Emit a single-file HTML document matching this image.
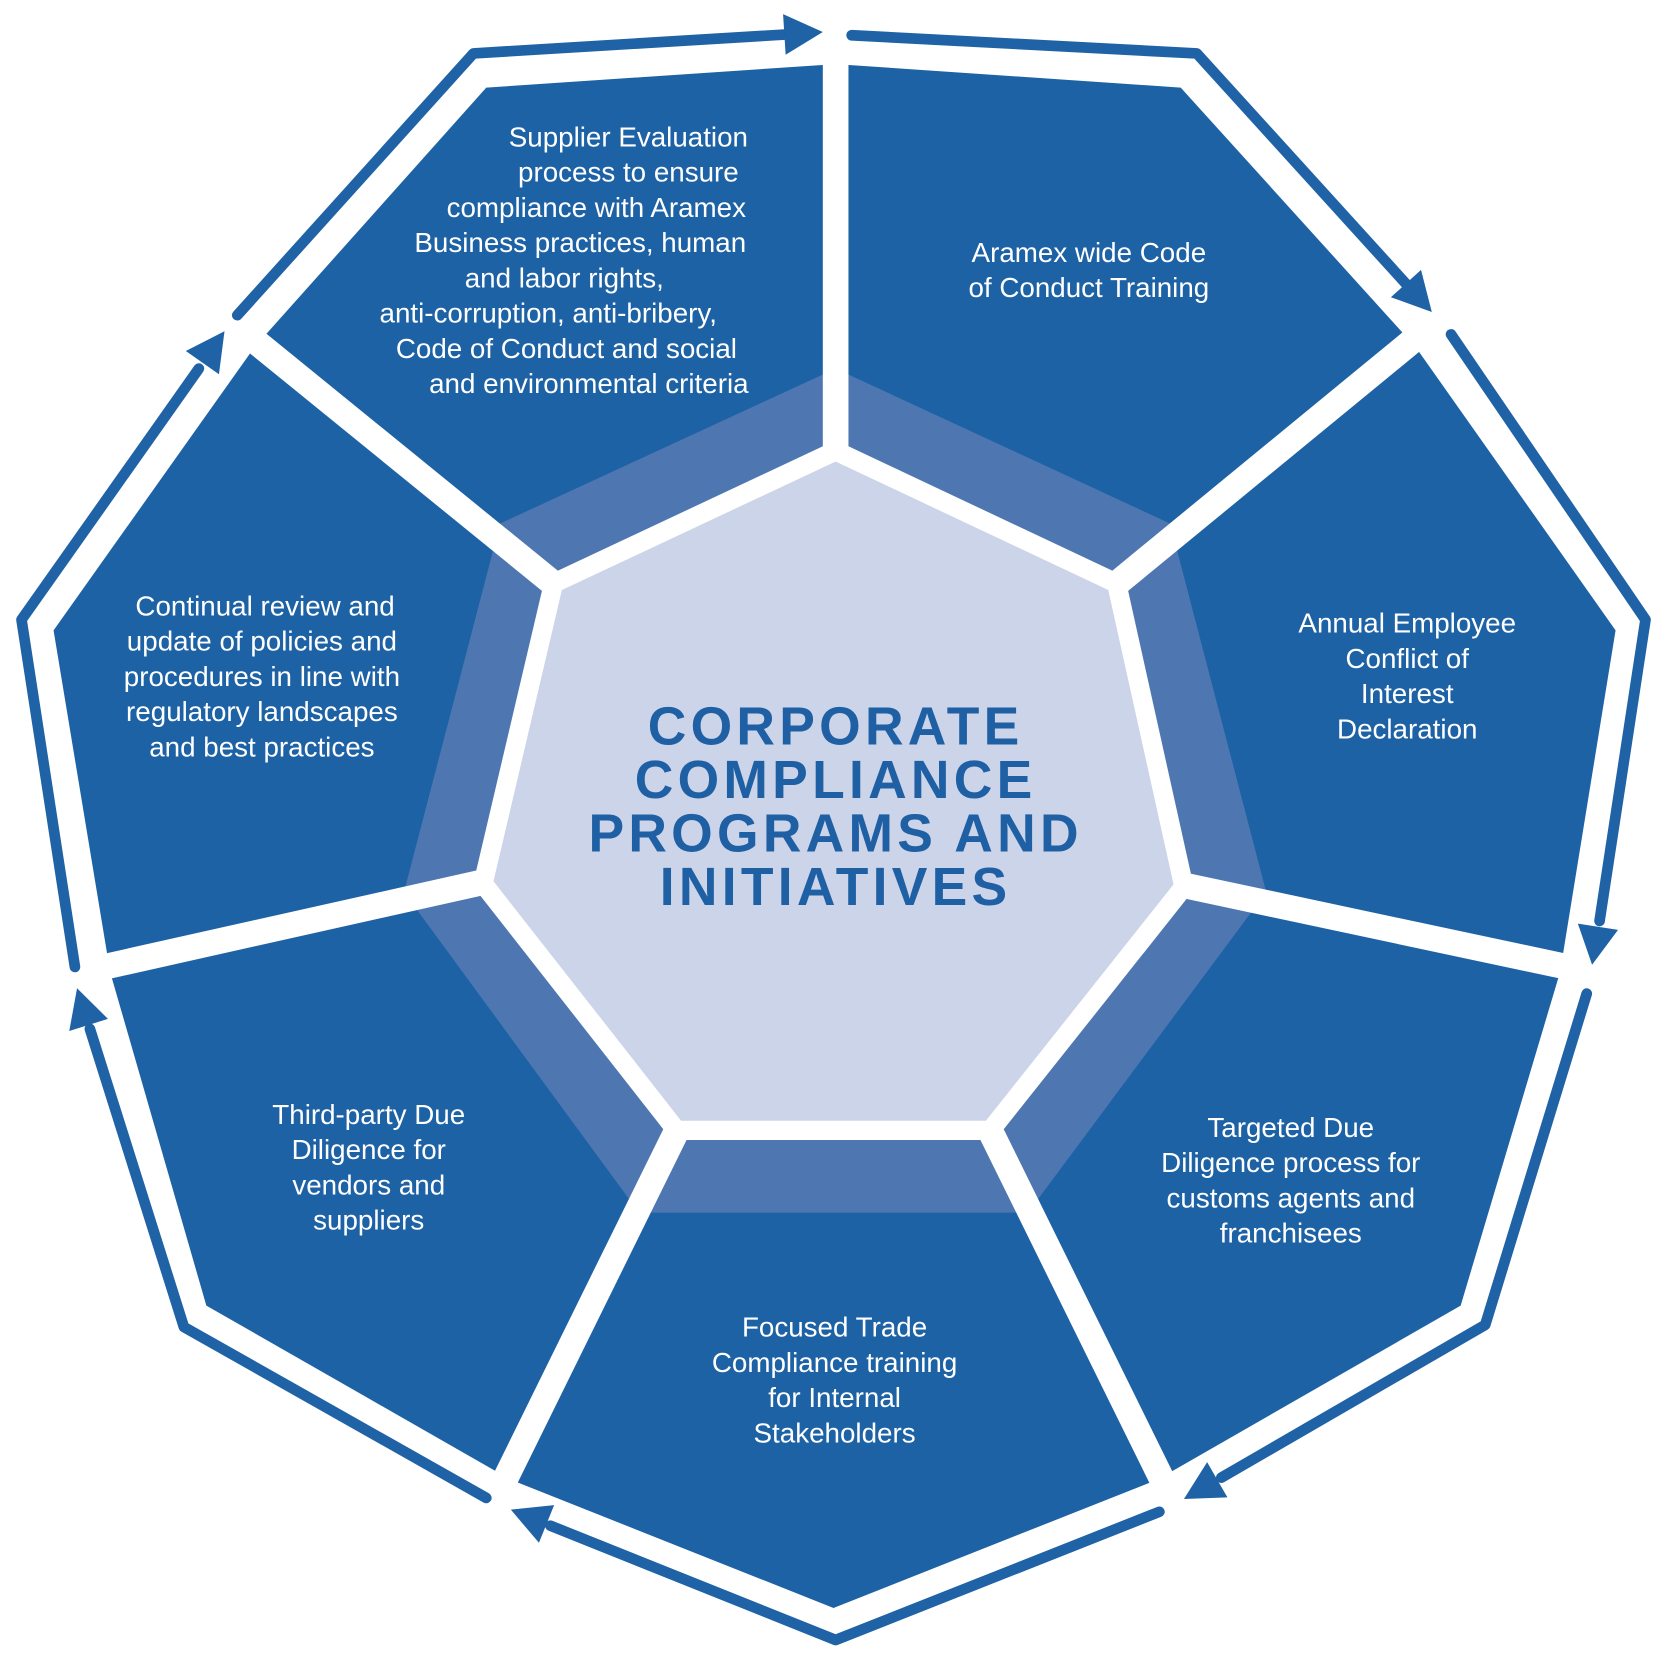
<!DOCTYPE html>
<html><head><meta charset="utf-8"><style>
html,body{margin:0;padding:0;background:#fff;width:1667px;height:1671px;overflow:hidden}
svg{display:block}
.t{font-family:"Liberation Sans",sans-serif;font-size:26px;fill:#fff;text-anchor:middle}
.h{font-family:"Liberation Sans",sans-serif;font-size:50px;font-weight:bold;fill:#1f5fa3;text-anchor:middle;letter-spacing:4px}
</style></head><body>
<svg width="1667" height="1671" viewBox="0 0 1560 1564" xmlns="http://www.w3.org/2000/svg">
<defs>
<clipPath id="c"><polygon points="782,60 1105,82 1325,325 1512,590 1460,910 1367,1222 1083,1385 780,1505 478,1385 193,1222 103,910 50,590 238,325 455,82"/></clipPath>
</defs>
<polygon points="782,60 1105,82 1325,325 1512,590 1460,910 1367,1222 1083,1385 780,1505 478,1385 193,1222 103,910 50,590 238,325 455,82" fill="#1e62a6"/>
<polygon points="782,345 1095,490 1185,835 962,1135 598,1135 378,835 468,490" fill="#4e77b1" clip-path="url(#c)"/>
<g stroke="#fff" stroke-width="24" stroke-linecap="butt">
<line x1="782" y1="40" x2="782" y2="425"/>
<line x1="1043" y1="548" x2="1345" y2="300"/>
<line x1="1105" y1="828" x2="1490" y2="910"/>
<line x1="925" y1="1055" x2="1095" y2="1400"/>
<line x1="635" y1="1055" x2="465" y2="1400"/>
<line x1="455" y1="825" x2="75" y2="910"/>
<line x1="520" y1="548" x2="215" y2="300"/>
</g>
<polygon points="782,422 1045,546 1108,830 927,1058 633,1058 452,827 518,546" fill="#cbd4e8" stroke="#fff" stroke-width="18" stroke-linejoin="miter"/>
<g fill="none" stroke="#1f62a6" stroke-width="10" stroke-linecap="round" stroke-linejoin="round">
<polyline points="222,295 443,50 740,32"/>
<polyline points="797,33 1120,50 1318,268"/>
<polyline points="1358,313 1540,580 1497,862"/>
<polyline points="1485,930 1390,1240 1143,1383"/>
<polyline points="1085,1415 782,1535 515,1428"/>
<polyline points="455,1402 172,1242 84,963"/>
<polyline points="70,905 20,580 186,345"/>
</g>
<g fill="#1f62a6">
<polygon points="770,30 735.2,51.2 732.8,13.2"/>
<polygon points="1340,292 1301.7,278.2 1329.9,252.6"/>
<polygon points="1490,903 1476.7,864.5 1514.3,870.3"/>
<polygon points="1108,1403 1129.7,1368.5 1148.7,1401.5"/>
<polygon points="478,1413 518.5,1408.8 504.3,1444"/>
<polygon points="72,925 100.9,953.6 64.7,965"/>
<polygon points="210,310 204.8,350.3 173.8,328.5"/>
</g>
<text class="h" x="782" y="697">CORPORATE</text>
<text class="h" x="782" y="747">COMPLIANCE</text>
<text class="h" x="782" y="797">PROGRAMS AND</text>
<text class="h" x="782" y="847">INITIATIVES</text>
<g class="t">
<text x="588" y="137">Supplier Evaluation</text>
<text x="588" y="170">process to ensure</text>
<text x="558" y="203">compliance with Aramex</text>
<text x="543" y="236">Business practices, human</text>
<text x="528" y="269">and labor rights,</text>
<text x="513" y="302">anti-corruption, anti-bribery,</text>
<text x="530" y="335">Code of Conduct and social</text>
<text x="551" y="368">and environmental criteria</text>
<text x="1019" y="245">Aramex wide Code</text>
<text x="1019" y="278">of Conduct Training</text>
<text x="1317" y="592">Annual Employee</text>
<text x="1317" y="625">Conflict of</text>
<text x="1317" y="658">Interest</text>
<text x="1317" y="691">Declaration</text>
<text x="1208" y="1064">Targeted Due</text>
<text x="1208" y="1097">Diligence process for</text>
<text x="1208" y="1130">customs agents and</text>
<text x="1208" y="1163">franchisees</text>
<text x="781" y="1251">Focused Trade</text>
<text x="781" y="1284">Compliance training</text>
<text x="781" y="1317">for Internal</text>
<text x="781" y="1350">Stakeholders</text>
<text x="345" y="1052">Third-party Due</text>
<text x="345" y="1085">Diligence for</text>
<text x="345" y="1118">vendors and</text>
<text x="345" y="1151">suppliers</text>
<text x="248" y="576">Continual review and</text>
<text x="245" y="609">update of policies and</text>
<text x="245" y="642">procedures in line with</text>
<text x="245" y="675">regulatory landscapes</text>
<text x="245" y="708">and best practices</text>
</g>
</svg>
</body></html>
